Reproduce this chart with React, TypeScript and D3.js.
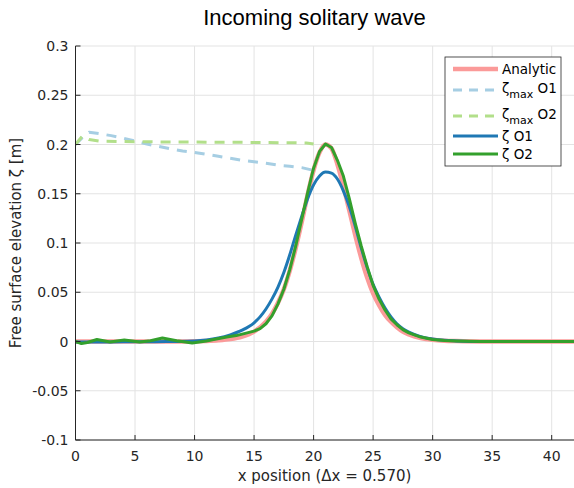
import React from "react";
import * as d3 from "d3";

// analytic solitary wave
const analyticX = [0, 2, 4, 6, 8, 10, 11, 12, 13, 14, 15, 16, 16.5, 17, 17.5, 18, 18.5, 19, 19.5, 20, 20.5, 21, 21.5, 22, 22.5, 23, 23.5, 24, 24.5, 25, 25.5, 26, 26.5, 27, 27.5, 28, 29, 30, 31, 32, 34, 36, 38, 40, 42];
const analyticY = [0, 0, 0, 0, 0, 0.0003, 0.0006, 0.0012, 0.0024, 0.0049, 0.01, 0.02, 0.028, 0.039, 0.053, 0.072, 0.095, 0.121, 0.149, 0.174, 0.192, 0.2, 0.196, 0.18, 0.158, 0.133, 0.108, 0.085, 0.065, 0.049, 0.037, 0.027, 0.02, 0.0145, 0.01, 0.0072, 0.0036, 0.0017, 0.0008, 0.0004, 0, 0, 0, 0, 0];

// running max of elevation
const maxO1X = [0, 0.57, 1.14, 2, 3, 4, 5, 6, 7, 8, 9, 10, 11, 12, 13, 14, 15, 16, 17, 18, 19, 19.9];
const maxO1Y = [0.2, 0.207, 0.2125, 0.211, 0.209, 0.2065, 0.2035, 0.2005, 0.198, 0.1955, 0.1935, 0.192, 0.19, 0.188, 0.186, 0.184, 0.1825, 0.181, 0.179, 0.178, 0.1765, 0.174];
const maxO2X = [0, 0.57, 1.14, 2, 4, 6, 8, 10, 12, 14, 16, 18, 19.4, 20];
const maxO2Y = [0.2, 0.2085, 0.205, 0.2035, 0.203, 0.2028, 0.2025, 0.2025, 0.2022, 0.2022, 0.202, 0.2018, 0.2015, 0.2005];

// numerical solutions
const o1X = [0, 2, 4, 6, 8, 10, 11, 12, 13, 14, 15, 15.5, 16, 16.5, 17, 17.5, 18, 18.5, 19, 19.5, 20, 20.5, 21, 21.5, 22, 22.5, 23, 23.5, 24, 24.5, 25, 25.5, 26, 26.5, 27, 27.5, 28, 29, 30, 31, 32, 34, 36, 38, 40, 42];
const o1Y = [-0.0005, -0.0005, -0.0003, -0.0003, 0, 0.0005, 0.0015, 0.0035, 0.0068, 0.0115, 0.019, 0.025, 0.033, 0.043, 0.055, 0.07, 0.088, 0.108, 0.127, 0.145, 0.159, 0.168, 0.172, 0.171, 0.165, 0.153, 0.137, 0.117, 0.095, 0.075, 0.058, 0.045, 0.034, 0.025, 0.018, 0.013, 0.0095, 0.005, 0.0025, 0.0012, 0.0006, 0, 0, 0, 0, 0];
const o2X = [0, 0.5, 1, 1.8, 2.9, 4.1, 5.4, 6.3, 7.3, 8.5, 9.8, 11, 11.6, 12.7, 13.5, 14, 15, 15.5, 16, 16.5, 17, 17.5, 18, 18.5, 19, 19.5, 20, 20.5, 21, 21.5, 22, 22.5, 23, 23.5, 24, 24.5, 25, 25.5, 26, 26.5, 27, 27.5, 28, 29, 30, 31, 32, 34, 36, 38, 40, 42];
const o2Y = [0, -0.002, -0.001, 0.002, -0.0005, 0.0015, -0.0005, 0.0008, 0.0035, 0.0008, -0.0015, 0.0005, 0.002, 0.0045, 0.006, 0.0075, 0.0105, 0.013, 0.018, 0.026, 0.038, 0.053, 0.073, 0.097, 0.124, 0.151, 0.176, 0.193, 0.2005, 0.197, 0.184, 0.168, 0.145, 0.12, 0.097, 0.076, 0.057, 0.043, 0.032, 0.023, 0.017, 0.012, 0.0088, 0.0045, 0.002, 0.001, 0.0005, 0, 0, 0, 0, 0];

const xTicks = [0, 5, 10, 15, 20, 25, 30, 35, 40];
const yTicks = [-0.1, -0.05, 0, 0.05, 0.1, 0.15, 0.2, 0.25, 0.3];

const W = 574;
const H = 488;
const left = 75.5;
const right = 575.5;
const top = 46;
const bottom = 440;
const ink = "#262626";

const x = d3.scaleLinear().domain([0, 42]).range([left, right]);
const y = d3.scaleLinear().domain([-0.1, 0.3]).range([bottom, top]);

const series = [
  { name: "Analytic", xs: analyticX, ys: analyticY, color: "#fb9a99", width: 4.5, dash: null, curve: d3.curveMonotoneX },
  { name: "max O1", xs: maxO1X, ys: maxO1Y, color: "#a6cee3", width: 3, dash: "10,8", curve: d3.curveLinear },
  { name: "max O2", xs: maxO2X, ys: maxO2Y, color: "#b2df8a", width: 3, dash: "10,8", curve: d3.curveLinear },
  { name: "O1", xs: o1X, ys: o1Y, color: "#1f78b4", width: 3, dash: null, curve: d3.curveMonotoneX },
  { name: "O2", xs: o2X, ys: o2Y, color: "#33a02c", width: 3, dash: null, curve: d3.curveLinear },
];

const fmt = (v: number) => String(+v.toFixed(2));

export default function App() {
  const path = (s: typeof series[number]) =>
    d3
      .line<number>()
      .x((_, i) => x(s.xs[i]))
      .y((d) => y(d))
      .curve(s.curve)(s.ys) || "";

  const legendRows = [69, 90, 116, 136, 154];
  const labelFont = "DejaVu Sans, sans-serif";

  return (
    <svg width={W} height={H} style={{ position: "absolute", left: 0, top: 0, background: "#fff" }}>
      <defs>
        <clipPath id="plot">
          <rect x={left} y={top - 2} width={right - left} height={bottom - top + 4} />
        </clipPath>
      </defs>
      <rect width={W} height={H} fill="#fff" />

      {/* grid */}
      <g stroke="#e3e3e3" strokeWidth={1}>
        {xTicks.map((t) => (
          <line key={"gx" + t} x1={x(t)} x2={x(t)} y1={top} y2={bottom} />
        ))}
        {yTicks.map((t) => (
          <line key={"gy" + t} x1={left} x2={right} y1={y(t)} y2={y(t)} />
        ))}
      </g>

      {/* curves */}
      <g clipPath="url(#plot)" fill="none" strokeLinejoin="round">
        {series.map((s) => (
          <path
            key={s.name}
            d={path(s)}
            stroke={s.color}
            strokeWidth={s.width}
            strokeDasharray={s.dash || undefined}
          />
        ))}
      </g>

      {/* axes */}
      <g stroke={ink} strokeWidth={1}>
        <line x1={left} x2={left} y1={top} y2={bottom} />
        <line x1={left} x2={right} y1={bottom} y2={bottom} />
        {xTicks.map((t) => (
          <line key={"tx" + t} x1={x(t)} x2={x(t)} y1={bottom} y2={bottom - 5} />
        ))}
        {yTicks.map((t) => (
          <line key={"ty" + t} x1={left} x2={left + 5} y1={y(t)} y2={y(t)} />
        ))}
      </g>
      <g fontFamily={labelFont} fontSize={14} fill={ink}>
        {xTicks.map((t) => (
          <text key={"lx" + t} x={x(t)} y={461} textAnchor="middle">
            {fmt(t)}
          </text>
        ))}
        {yTicks.map((t) => (
          <text key={"ly" + t} x={left - 7} y={y(t) + 5} textAnchor="end">
            {fmt(t)}
          </text>
        ))}
      </g>

      {/* labels */}
      <text x={324.5} y={481} textAnchor="middle" fontFamily={labelFont} fontSize={15} fill={ink}>
        x position (Δx = 0.570)
      </text>
      <text
        transform={`translate(21,${(top + bottom) / 2}) rotate(-90)`}
        textAnchor="middle"
        fontFamily={labelFont}
        fontSize={15}
        fill={ink}
      >
        Free surface elevation ζ [m]
      </text>
      <text x={314.5} y={25} textAnchor="middle" fontFamily="Liberation Sans, Arial, sans-serif" fontSize={22} fill="#000">
        Incoming solitary wave
      </text>

      {/* legend */}
      <rect x={445} y={57} width={116} height={109} fill="#fff" stroke={ink} strokeWidth={0.8} />
      <g fontFamily={labelFont} fontSize={13.5} fill="#000">
        {series.map((s, i) => (
          <g key={"lg" + s.name}>
            <line
              x1={453}
              x2={498}
              y1={legendRows[i]}
              y2={legendRows[i]}
              stroke={s.color}
              strokeWidth={s.width}
              strokeDasharray={s.dash ? "9,7" : undefined}
            />
            {i === 0 ? (
              <text x={502} y={legendRows[i] + 5}>Analytic</text>
            ) : i < 3 ? (
              <text x={502} y={legendRows[i] + 3}>
                ζ
                <tspan fontSize={11} dy={5}>max</tspan>
                <tspan dy={-5}>{" O" + i}</tspan>
              </text>
            ) : (
              <text x={502} y={legendRows[i] + 5}>{"ζ O" + (i - 2)}</text>
            )}
          </g>
        ))}
      </g>
    </svg>
  );
}
